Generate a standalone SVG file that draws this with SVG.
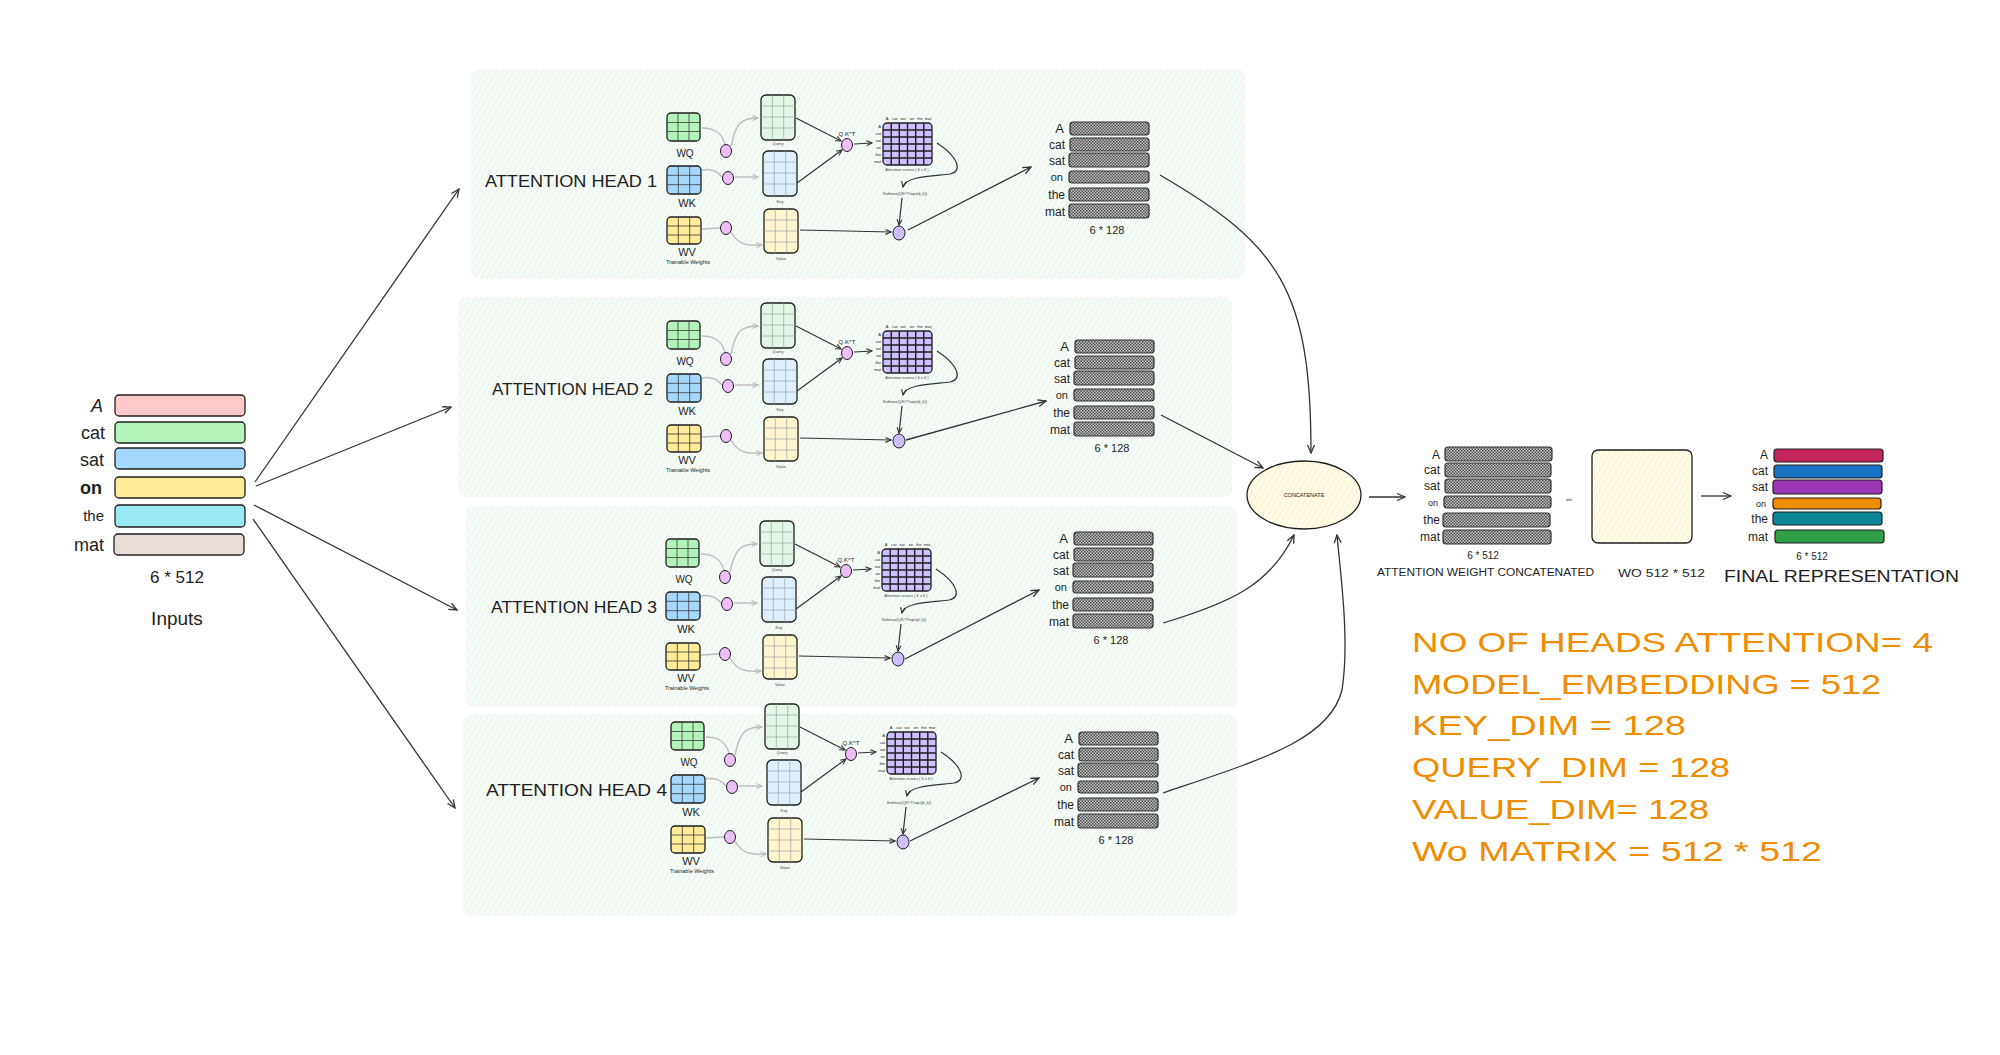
<svg xmlns="http://www.w3.org/2000/svg" width="2000" height="1055" viewBox="0 0 2000 1055">
<style>
 text{font-family:"Liberation Sans",Arial,sans-serif;fill:#1e1e1e}
 .bx{stroke:#1e1e1e;stroke-width:1.3}
 .gl{stroke:#3a3a3a;stroke-width:0.8;fill:none}
 .gl2{stroke:#9aa3a8;stroke-width:0.7;fill:none}
 .mg{stroke:#1e1e1e;stroke-width:1.4;fill:none}
 .ar{stroke:#333;stroke-width:1.3;fill:none;marker-end:url(#ah)}
 .arS{stroke:#333;stroke-width:1.2;fill:none;marker-end:url(#ahS)}
 .arG{stroke:#bdbdbd;stroke-width:1.4;fill:none;marker-end:url(#ahG)}
 .arG0{stroke:#bdbdbd;stroke-width:1.4;fill:none}
 .pk{fill:#eebefa;stroke:#1e1e1e;stroke-width:1}
 .pu{fill:#d0bfff;stroke:#1e1e1e;stroke-width:1}
 .tiny{font-size:4px;fill:#444}
 .lbl{font-size:12px;text-anchor:end}
 .mid{text-anchor:middle}
 .orange{fill:#f08c00;font-size:28px}
</style>
<defs>
 <marker id="ah" markerUnits="userSpaceOnUse" markerWidth="10" markerHeight="10" refX="9" refY="5" orient="auto">
  <path d="M1,1.5 L9,5 L1,8.5" fill="none" stroke="#333" stroke-width="1.3"/>
 </marker>
 <marker id="ahS" markerUnits="userSpaceOnUse" markerWidth="7" markerHeight="7" refX="6" refY="3.5" orient="auto">
  <path d="M0.5,1 L6,3.5 L0.5,6" fill="none" stroke="#333" stroke-width="1.1"/>
 </marker>
 <marker id="ahG" markerUnits="userSpaceOnUse" markerWidth="7" markerHeight="7" refX="6" refY="3.5" orient="auto">
  <path d="M0.5,1 L6,3.5 L0.5,6" fill="none" stroke="#bdbdbd" stroke-width="1.1"/>
 </marker>
 <pattern id="hatchG" patternUnits="userSpaceOnUse" width="5" height="5" patternTransform="rotate(30)">
  <rect width="5" height="5" fill="#f6fbf7"/>
  <line x1="0" y1="0" x2="0" y2="5" stroke="#ddf0e1" stroke-width="1.2"/>
 </pattern>
 <pattern id="hatchY" patternUnits="userSpaceOnUse" width="5" height="5" patternTransform="rotate(30)">
  <rect width="5" height="5" fill="#fffbe8"/>
  <line x1="0" y1="0" x2="0" y2="5" stroke="#f7ebb5" stroke-width="1.2"/>
 </pattern>
 <pattern id="checker" patternUnits="userSpaceOnUse" width="3" height="3">
  <rect width="3" height="3" fill="#c8c8c8"/>
  <rect width="1.5" height="1.5" fill="#4a4a4a"/>
  <rect x="1.5" y="1.5" width="1.5" height="1.5" fill="#4a4a4a"/>
 </pattern>

 <!-- head core shapes (head 1 coordinates) -->
 <g id="core">
  <rect x="667" y="113" width="33" height="28" rx="4" fill="#b2f2bb" class="bx"/>
  <path class="gl" d="M678,113v28M689,113v28M667,122.5h33M667,131.5h33"/>
  <rect x="667" y="166" width="34" height="28" rx="4" fill="#a5d8ff" class="bx"/>
  <path class="gl" d="M678.3,166v28M689.7,166v28M667,175.3h34M667,184.7h34"/>
  <rect x="667" y="217" width="34" height="27" rx="4" fill="#ffec99" class="bx"/>
  <path class="gl" d="M678.3,217v27M689.7,217v27M667,226h34M667,235h34"/>
  <path class="arG0" d="M702,128 C716,128 722,134 725,144"/>
  <path class="arG" d="M731,146 C736,122 742,118 758,118"/>
  <path class="arG0" d="M702,170 C712,168 718,172 722,177"/>
  <path class="arG" d="M735,177 L758,177"/>
  <path class="arG0" d="M702,229 L720,228"/>
  <path class="arG" d="M731,232 C738,244 745,246 762,245"/>
  <ellipse class="pk" cx="726" cy="151" rx="5.5" ry="6.5"/>
  <ellipse class="pk" cx="728" cy="178" rx="5.5" ry="6.5"/>
  <ellipse class="pk" cx="726" cy="228" rx="5.5" ry="6.5"/>
  <rect x="761" y="95" width="34" height="45" rx="5" fill="#e3f7e6" class="bx"/>
  <path class="gl2" d="M772.3,95v45M783.7,95v45M761,106h34M761,117h34M761,128h34"/>
  <rect x="763" y="151" width="34" height="45" rx="5" fill="#dff0fd" class="bx"/>
  <path class="gl2" d="M774.3,151v45M785.7,151v45M763,162h34M763,173h34M763,184h34"/>
  <rect x="764" y="209" width="34" height="44" rx="5" fill="#fff6cf" class="bx"/>
  <path class="gl2" d="M775.3,209v44M786.7,209v44M764,220h34M764,231h34M764,242h34"/>
  <path class="arS" d="M796,118 L841,141"/>
  <path class="arS" d="M797,183 L842,150"/>
  <ellipse class="pk" cx="847" cy="145" rx="5.5" ry="6.5"/>
  <path class="arS" d="M854,144 L872,143"/>
  <rect x="883" y="123" width="49" height="42" rx="4" fill="#d0bfff" class="bx"/>
  <path class="mg" d="M891.2,123v42M899.3,123v42M907.5,123v42M915.7,123v42M923.8,123v42M883,130h49M883,137h49M883,144h49M883,151h49M883,158h49"/>
  <path class="arS" d="M937,143 C960,158 962,172 950,174 C935,176 905,176 903,187"/>
  <path class="arS" d="M902,198 L899,225"/>
  <path class="arS" d="M800,230 L891,232"/>
  <ellipse class="pu" cx="899" cy="233" rx="6" ry="7"/>
 </g>

 <g id="s128" fill="url(#checker)" stroke="#333" stroke-width="1.2">
  <rect x="1070" y="122" width="79" height="13" rx="3"/>
  <rect x="1070" y="138" width="79" height="13" rx="3"/>
  <rect x="1069" y="153" width="80" height="14" rx="3"/>
  <rect x="1069" y="171" width="80" height="12" rx="3"/>
  <rect x="1069" y="188" width="80" height="13" rx="3"/>
  <rect x="1069" y="204" width="80" height="14" rx="3"/>
 </g>
</defs>

<rect width="2000" height="1055" fill="#ffffff"/>

<g id="panels">
 <rect id="panel-1" x="471" y="69" width="774" height="210" rx="8" fill="url(#hatchG)"/>
 <rect id="panel-2" x="458" y="297" width="774" height="200" rx="8" fill="url(#hatchG)"/>
 <rect id="panel-3" x="466" y="506" width="771" height="201" rx="8" fill="url(#hatchG)"/>
 <rect id="panel-4" x="463" y="714" width="774" height="202" rx="8" fill="url(#hatchG)"/>
</g>

<g id="inputs">
 <rect x="115" y="395" width="130" height="21" rx="4" fill="#ffc9c9" class="bx"/>
 <rect x="115" y="422" width="130" height="21" rx="4" fill="#b2f2bb" class="bx"/>
 <rect x="115" y="448" width="130" height="21" rx="4" fill="#a5d8ff" class="bx"/>
 <rect x="115" y="477" width="130" height="21" rx="4" fill="#ffec99" class="bx"/>
 <rect x="115" y="505" width="130" height="22" rx="4" fill="#99e9f2" class="bx"/>
 <rect x="114" y="534" width="130" height="21" rx="4" fill="#eaddd7" class="bx"/>
 <g font-size="18" text-anchor="end">
  <text x="103" y="412" font-style="italic">A</text>
  <text x="105" y="439">cat</text>
  <text x="104" y="466">sat</text>
  <text x="102" y="494" font-weight="bold">on</text>
  <text x="104" y="521" font-size="15">the</text>
  <text x="104" y="551">mat</text>
 </g>
 <text x="177" y="583" font-size="17" class="mid">6 * 512</text>
 <text x="177" y="625" font-size="19" class="mid">Inputs</text>
</g>

<g id="head-1">
 <use href="#core"/>
 <text x="485" y="187" font-size="17" textLength="172" lengthAdjust="spacingAndGlyphs">ATTENTION HEAD 1</text>
 <text x="685" y="157" font-size="10" class="mid">WQ</text>
 <text x="687" y="207" font-size="11" class="mid">WK</text>
 <text x="687" y="256" font-size="11" class="mid">WV</text>
 <text x="688" y="264" font-size="5.5" class="mid">Trainable Weights</text>
 <text x="778" y="145" class="tiny mid">Query</text>
 <text x="780" y="203" class="tiny mid">Key</text>
 <text x="781" y="260" class="tiny mid">Value</text>
 <text x="847" y="136" font-size="6" class="mid">Q.K^T</text>
 <g class="tiny mid" font-size="3.2">
  <text x="887" y="120">A</text><text x="895" y="120">cat</text><text x="903" y="120">sat</text><text x="912" y="120">on</text><text x="920" y="120">the</text><text x="928" y="120">mat</text>
 </g>
 <g class="tiny" font-size="3.2" text-anchor="end">
  <text x="881" y="128">A</text><text x="881" y="135">cat</text><text x="881" y="142">sat</text><text x="881" y="149">on</text><text x="881" y="156">the</text><text x="881" y="163">mat</text>
 </g>
 <text x="907" y="171" class="tiny mid">Attention scores ( 6 x 6 )</text>
 <text x="905" y="195" class="tiny mid">Softmax(QK^T/sqrt(d_k))</text>
 <use href="#s128"/>
 <g class="lbl">
  <text x="1064" y="133" font-size="13">A</text><text x="1065" y="149">cat</text><text x="1065" y="165">sat</text><text x="1063" y="181" font-size="11">on</text><text x="1065" y="199">the</text><text x="1065" y="216">mat</text>
 </g>
 <text x="1107" y="234" font-size="11" class="mid">6 * 128</text>
</g>

<g id="head-2">
 <g transform="translate(0,208)">
  <use href="#core"/>
  <text x="492" y="187" font-size="17" textLength="161" lengthAdjust="spacingAndGlyphs">ATTENTION HEAD 2</text>
  <text x="685" y="157" font-size="10" class="mid">WQ</text>
  <text x="687" y="207" font-size="11" class="mid">WK</text>
  <text x="687" y="256" font-size="11" class="mid">WV</text>
  <text x="688" y="264" font-size="5.5" class="mid">Trainable Weights</text>
  <text x="778" y="145" class="tiny mid">Query</text>
  <text x="780" y="203" class="tiny mid">Key</text>
  <text x="781" y="260" class="tiny mid">Value</text>
  <text x="847" y="136" font-size="6" class="mid">Q.K^T</text>
  <g class="tiny mid" font-size="3.2">
   <text x="887" y="120">A</text><text x="895" y="120">cat</text><text x="903" y="120">sat</text><text x="912" y="120">on</text><text x="920" y="120">the</text><text x="928" y="120">mat</text>
  </g>
  <g class="tiny" font-size="3.2" text-anchor="end">
   <text x="881" y="128">A</text><text x="881" y="135">cat</text><text x="881" y="142">sat</text><text x="881" y="149">on</text><text x="881" y="156">the</text><text x="881" y="163">mat</text>
  </g>
  <text x="907" y="171" class="tiny mid">Attention scores ( 6 x 6 )</text>
  <text x="905" y="195" class="tiny mid">Softmax(QK^T/sqrt(d_k))</text>
 </g>
 <g transform="translate(5,218)">
  <use href="#s128"/>
  <g class="lbl">
   <text x="1064" y="133" font-size="13">A</text><text x="1065" y="149">cat</text><text x="1065" y="165">sat</text><text x="1063" y="181" font-size="11">on</text><text x="1065" y="199">the</text><text x="1065" y="216">mat</text>
  </g>
  <text x="1107" y="234" font-size="11" class="mid">6 * 128</text>
 </g>
</g>

<g id="head-3">
 <g transform="translate(-1,426)">
  <use href="#core"/>
  <text x="492" y="187" font-size="17" textLength="166" lengthAdjust="spacingAndGlyphs">ATTENTION HEAD 3</text>
  <text x="685" y="157" font-size="10" class="mid">WQ</text>
  <text x="687" y="207" font-size="11" class="mid">WK</text>
  <text x="687" y="256" font-size="11" class="mid">WV</text>
  <text x="688" y="264" font-size="5.5" class="mid">Trainable Weights</text>
  <text x="778" y="145" class="tiny mid">Query</text>
  <text x="780" y="203" class="tiny mid">Key</text>
  <text x="781" y="260" class="tiny mid">Value</text>
  <text x="847" y="136" font-size="6" class="mid">Q.K^T</text>
  <g class="tiny mid" font-size="3.2">
   <text x="887" y="120">A</text><text x="895" y="120">cat</text><text x="903" y="120">sat</text><text x="912" y="120">on</text><text x="920" y="120">the</text><text x="928" y="120">mat</text>
  </g>
  <g class="tiny" font-size="3.2" text-anchor="end">
   <text x="881" y="128">A</text><text x="881" y="135">cat</text><text x="881" y="142">sat</text><text x="881" y="149">on</text><text x="881" y="156">the</text><text x="881" y="163">mat</text>
  </g>
  <text x="907" y="171" class="tiny mid">Attention scores ( 6 x 6 )</text>
  <text x="905" y="195" class="tiny mid">Softmax(QK^T/sqrt(d_k))</text>
 </g>
 <g transform="translate(4,410)">
  <use href="#s128"/>
  <g class="lbl">
   <text x="1064" y="133" font-size="13">A</text><text x="1065" y="149">cat</text><text x="1065" y="165">sat</text><text x="1063" y="181" font-size="11">on</text><text x="1065" y="199">the</text><text x="1065" y="216">mat</text>
  </g>
  <text x="1107" y="234" font-size="11" class="mid">6 * 128</text>
 </g>
</g>

<g id="head-4">
 <g transform="translate(4,609)">
  <use href="#core"/>
  <text x="482" y="187" font-size="17" textLength="181" lengthAdjust="spacingAndGlyphs">ATTENTION HEAD 4</text>
  <text x="685" y="157" font-size="10" class="mid">WQ</text>
  <text x="687" y="207" font-size="11" class="mid">WK</text>
  <text x="687" y="256" font-size="11" class="mid">WV</text>
  <text x="688" y="264" font-size="5.5" class="mid">Trainable Weights</text>
  <text x="778" y="145" class="tiny mid">Query</text>
  <text x="780" y="203" class="tiny mid">Key</text>
  <text x="781" y="260" class="tiny mid">Value</text>
  <text x="847" y="136" font-size="6" class="mid">Q.K^T</text>
  <g class="tiny mid" font-size="3.2">
   <text x="887" y="120">A</text><text x="895" y="120">cat</text><text x="903" y="120">sat</text><text x="912" y="120">on</text><text x="920" y="120">the</text><text x="928" y="120">mat</text>
  </g>
  <g class="tiny" font-size="3.2" text-anchor="end">
   <text x="881" y="128">A</text><text x="881" y="135">cat</text><text x="881" y="142">sat</text><text x="881" y="149">on</text><text x="881" y="156">the</text><text x="881" y="163">mat</text>
  </g>
  <text x="907" y="171" class="tiny mid">Attention scores ( 6 x 6 )</text>
  <text x="905" y="195" class="tiny mid">Softmax(QK^T/sqrt(d_k))</text>
 </g>
 <g transform="translate(9,610)">
  <use href="#s128"/>
  <g class="lbl">
   <text x="1064" y="133" font-size="13">A</text><text x="1065" y="149">cat</text><text x="1065" y="165">sat</text><text x="1063" y="181" font-size="11">on</text><text x="1065" y="199">the</text><text x="1065" y="216">mat</text>
  </g>
  <text x="1107" y="234" font-size="11" class="mid">6 * 128</text>
 </g>
</g>

<g id="concatenate">
 <ellipse cx="1304" cy="495" rx="57" ry="34" fill="url(#hatchY)" class="bx"/>
 <text x="1304" y="497" font-size="5.5" class="mid" fill="#555">CONCATENATE</text>
</g>

<g id="concat-stack">
 <g fill="url(#checker)" stroke="#333" stroke-width="1.2">
  <rect x="1445" y="447" width="107" height="14" rx="3"/>
  <rect x="1445" y="463" width="106" height="14" rx="3"/>
  <rect x="1445" y="479" width="106" height="14" rx="3"/>
  <rect x="1444" y="496" width="107" height="12" rx="3"/>
  <rect x="1443" y="513" width="107" height="14" rx="3"/>
  <rect x="1443" y="530" width="108" height="14" rx="3"/>
 </g>
 <g class="lbl" font-size="11">
  <text x="1440" y="459" font-size="12">A</text><text x="1440" y="474">cat</text><text x="1440" y="490">sat</text><text x="1438" y="506" font-size="9">on</text><text x="1440" y="524">the</text><text x="1440" y="541">mat</text>
 </g>
 <text x="1483" y="559" font-size="10" class="mid">6 * 512</text>
 <text x="1377" y="576" font-size="10" textLength="217" lengthAdjust="spacingAndGlyphs">ATTENTION WEIGHT CONCATENATED</text>
 <text x="1569" y="501" font-size="4" class="mid" fill="#444">dot</text>
</g>

<g id="wo-matrix">
 <rect x="1592" y="450" width="100" height="93" rx="6" fill="url(#hatchY)" class="bx"/>
 <text x="1618" y="577" font-size="10" textLength="87" lengthAdjust="spacingAndGlyphs">WO 512 * 512</text>
</g>

<g id="final-representation">
 <g stroke="#1e1e1e" stroke-width="1.2">
  <rect x="1774" y="449" width="109" height="13" rx="3" fill="#c2255c"/>
  <rect x="1774" y="465" width="108" height="13" rx="3" fill="#1971c2"/>
  <rect x="1773" y="480" width="109" height="14" rx="3" fill="#9c36b5"/>
  <rect x="1773" y="498" width="108" height="11" rx="3" fill="#f08c00"/>
  <rect x="1773" y="512" width="109" height="13" rx="3" fill="#0c8599"/>
  <rect x="1775" y="530" width="109" height="13" rx="3" fill="#2f9e44"/>
 </g>
 <g class="lbl" font-size="11">
  <text x="1768" y="459" font-size="12">A</text><text x="1768" y="475">cat</text><text x="1768" y="491">sat</text><text x="1766" y="507" font-size="9">on</text><text x="1768" y="523">the</text><text x="1768" y="541">mat</text>
 </g>
 <text x="1812" y="560" font-size="10" class="mid">6 * 512</text>
 <text x="1724" y="582" font-size="16" textLength="235" lengthAdjust="spacingAndGlyphs">FINAL REPRESENTATION</text>
</g>

<g id="parameters">
 <text class="orange" x="1412" y="652" textLength="521" lengthAdjust="spacingAndGlyphs">NO OF HEADS ATTENTION= 4</text>
 <text class="orange" x="1412" y="694" textLength="469" lengthAdjust="spacingAndGlyphs">MODEL_EMBEDDING = 512</text>
 <text class="orange" x="1412" y="735" textLength="274" lengthAdjust="spacingAndGlyphs">KEY_DIM = 128</text>
 <text class="orange" x="1412" y="777" textLength="318" lengthAdjust="spacingAndGlyphs">QUERY_DIM = 128</text>
 <text class="orange" x="1412" y="819" textLength="297" lengthAdjust="spacingAndGlyphs">VALUE_DIM= 128</text>
 <text class="orange" x="1412" y="861" textLength="410" lengthAdjust="spacingAndGlyphs">Wo MATRIX = 512 * 512</text>
</g>

<g id="connectors">
 <path class="ar" d="M255,482 L459,189"/>
 <path class="ar" d="M256,486 L451,407"/>
 <path class="ar" d="M254,505 L457,610"/>
 <path class="ar" d="M253,519 L455,808"/>
 <path class="ar" d="M908,230 L1031,167"/>
 <path class="ar" d="M906,440 L1046,401"/>
 <path class="ar" d="M905,659 L1039,590"/>
 <path class="ar" d="M910,841 L1039,778"/>
 <path class="ar" d="M1160,175 C1280,245 1311,290 1311,453"/>
 <path class="ar" d="M1161,415 L1263,468"/>
 <path class="ar" d="M1163,623 C1230,603 1270,585 1294,535"/>
 <path class="ar" d="M1163,793 C1260,760 1330,740 1342,690 C1350,640 1340,570 1337,535"/>
 <path class="ar" d="M1369,497 L1405,497"/>
 <path class="ar" d="M1701,496 L1731,496"/>
</g>
</svg>
